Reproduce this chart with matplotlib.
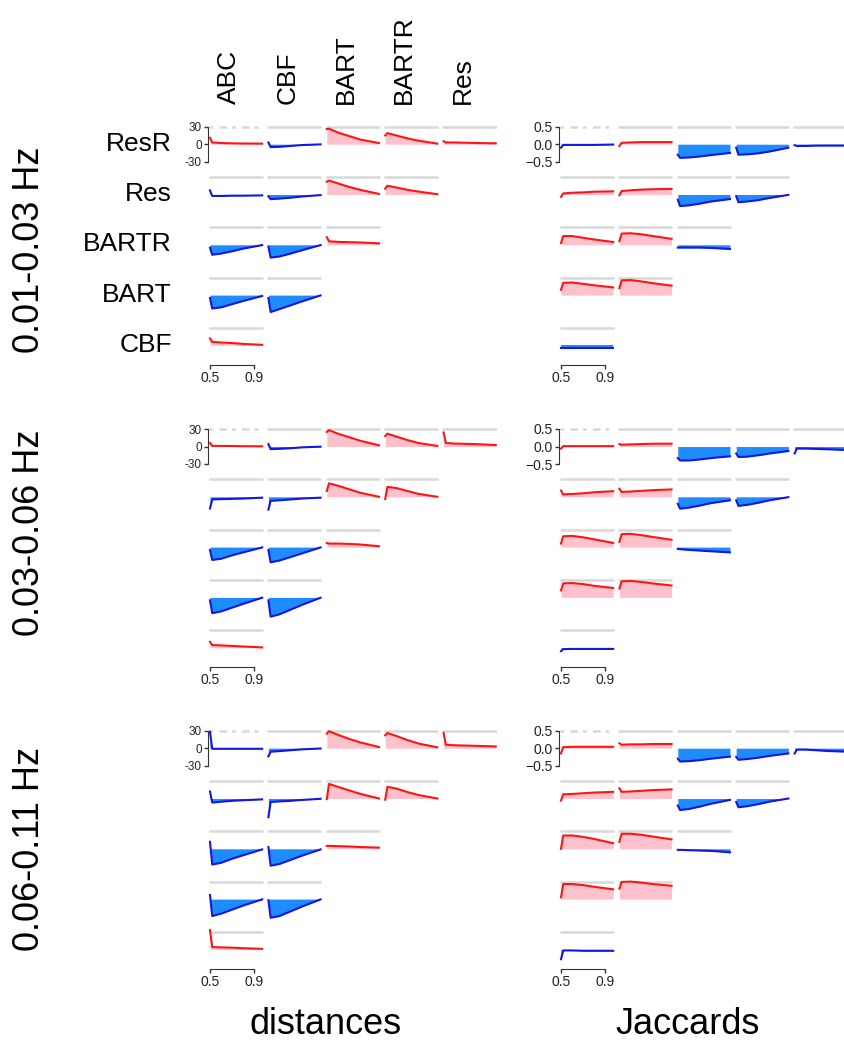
import numpy as np
import matplotlib
matplotlib.use("Agg")
import matplotlib.pyplot as plt

plt.rcParams['font.family'] = ['Liberation Sans', 'DejaVu Sans']

bands = ["0.01-0.03 Hz", "0.03-0.06 Hz", "0.06-0.11 Hz"]
metrics = ["distances", "Jaccards"]
col_names = ["ABC", "CBF", "BART", "BARTR", "Res"]
row_names = ["ResR", "Res", "BARTR", "BART", "CBF"]

# threshold values (x) at which the differences were read
thresholds = [0.50, 0.52, 0.60, 0.70, 0.80, 0.97]

# rows: ResR, Res, BARTR, BART, CBF ; columns: ABC, CBF, BART, BARTR, Res
dist_low = [
    [[11, 3, 2, 1.5, 1.2, 1], [3, -5, -4.5, -3, -1.5, -0.3], [26, 26.5, 20, 14, 8, 2],
     [15, 19, 15, 10, 6, 1], [5, 3, 3, 2.5, 2, 1.5]],
    [[7, -2.5, -2.5, -2, -2, -1.5], [-3, -8, -7, -5.5, -3.5, -1], [22, 24, 19, 13, 8, 1],
     [10, 15, 12, 8, 5, 0.5]],
    [[-5, -17, -15, -11, -6.5, -0.5], [-3, -22, -20, -15, -9.5, -0.5], [13, 6, 5, 4.5, 4, 2.5]],
    [[-5, -23, -21, -15.5, -10, -1.5], [-5, -29, -24, -17.5, -11, -0.5]],
    [[12, 6, 5, 4, 2.5, 1]],
]
dist_mid = [
    [[6, 1, 1, 0.8, 0.5, 0.3], [4, -4.5, -4, -3, -1.5, -0.3], [25, 28, 22, 16, 10, 2],
     [18, 22, 17, 11, 6, 1], [24, 6, 5, 4.5, 4, 2.5]],
    [[-20, -4.5, -4, -3.5, -3, -1.5], [-22, -7, -6, -4.5, -3, -1.5], [10, 23, 19, 13, 7, 0],
     [-4, 17, 15, 10, 5, 0]],
    [[-5, -22, -20, -14, -9, -0.5], [-5, -26, -23, -17, -11, -0.5], [7, 6, 6, 5.5, 4.5, 1.5]],
    [[-5, -27, -24, -17.5, -11, -0.5], [-5, -33, -29, -21, -13, -0.5]],
    [[10, 4.5, 4, 3, 2, 0.5]],
]
dist_high = [
    [[28, -1, -1, -1, -1, -1], [-14, -6, -5, -3.5, -2, -0.5], [25, 29, 23, 16, 10, 2],
     [22, 26, 21, 14, 8, 1.5], [26, 6, 5, 4.5, 4, 3]],
    [[12, -7, -5.5, -4, -3, -1.5], [-32, -6, -5, -4, -2.5, -0.5], [-1, 25, 20, 14, 8, 0],
     [-2, 20, 17, 11, 6, 0]],
    [[12, -27, -24, -17, -11, -1], [3, -29, -26, -19, -12, -1], [5, 5, 4.5, 4, 3, 2]],
    [[7, -29, -25, -18, -11, -0.5], [-2, -32, -29, -21, -13, -0.5]],
    [[33, 4, 3.5, 3, 2, 1]],
]
jac_low = [
    [[-0.1, -0.02, -0.02, -0.02, -0.02, -0.01], [-0.05, 0.04, 0.05, 0.06, 0.06, 0.06],
     [-0.3, -0.39, -0.38, -0.35, -0.31, -0.25], [-0.1, -0.3, -0.29, -0.26, -0.21, -0.1],
     [-0.03, -0.05, -0.05, -0.04, -0.04, -0.04]],
    [[-0.07, 0.03, 0.05, 0.06, 0.08, 0.09], [-0.02, 0.1, 0.12, 0.14, 0.15, 0.16],
     [-0.15, -0.33, -0.31, -0.26, -0.2, -0.13], [-0.05, -0.22, -0.2, -0.16, -0.1, -0.01]],
    [[0.05, 0.25, 0.25, 0.2, 0.15, 0.08], [0.1, 0.32, 0.33, 0.3, 0.25, 0.17],
     [-0.08, -0.08, -0.08, -0.08, -0.09, -0.12]],
    [[0.15, 0.35, 0.36, 0.32, 0.28, 0.22], [0.2, 0.42, 0.43, 0.39, 0.34, 0.27]],
    [[-0.06, -0.06, -0.06, -0.06, -0.06, -0.06]],
]
jac_mid = [
    [[-0.06, 0.01, 0.01, 0.01, 0.01, 0.01], [0.07, 0.05, 0.06, 0.07, 0.08, 0.08],
     [-0.33, -0.4, -0.4, -0.37, -0.33, -0.28], [-0.2, -0.3, -0.29, -0.25, -0.2, -0.13],
     [-0.2, -0.06, -0.06, -0.07, -0.08, -0.1]],
    [[0.18, 0.07, 0.08, 0.1, 0.13, 0.16], [0.23, 0.14, 0.15, 0.17, 0.19, 0.21],
     [-0.2, -0.34, -0.31, -0.25, -0.18, -0.1], [-0.1, -0.26, -0.23, -0.17, -0.1, -0.01]],
    [[0.1, 0.31, 0.32, 0.28, 0.22, 0.12], [0.15, 0.37, 0.38, 0.34, 0.29, 0.21],
     [-0.05, -0.06, -0.08, -0.1, -0.12, -0.15]],
    [[0.2, 0.4, 0.41, 0.38, 0.33, 0.27], [0.25, 0.46, 0.47, 0.44, 0.4, 0.34]],
    [[-0.1, -0.04, -0.035, -0.035, -0.035, -0.035]],
]
jac_high = [
    [[-0.15, 0.03, 0.04, 0.04, 0.04, 0.04], [0.14, 0.1, 0.11, 0.11, 0.12, 0.12],
     [-0.3, -0.38, -0.37, -0.34, -0.3, -0.24], [-0.25, -0.33, -0.31, -0.27, -0.22, -0.15],
     [-0.15, -0.04, -0.04, -0.06, -0.08, -0.1]],
    [[-0.06, 0.12, 0.13, 0.15, 0.17, 0.19], [0.29, 0.19, 0.2, 0.22, 0.24, 0.26],
     [-0.2, -0.33, -0.3, -0.23, -0.15, -0.04], [-0.1, -0.25, -0.22, -0.16, -0.09, 0.0]],
    [[0.0, 0.38, 0.38, 0.34, 0.28, 0.16], [0.2, 0.43, 0.43, 0.4, 0.35, 0.27],
     [-0.03, -0.03, -0.04, -0.05, -0.06, -0.1]],
    [[0.05, 0.43, 0.43, 0.4, 0.35, 0.28], [0.3, 0.49, 0.5, 0.47, 0.43, 0.38]],
    [[-0.28, -0.03, -0.03, -0.04, -0.04, -0.04]],
]

data = {
    "distances": [dist_low, dist_mid, dist_high],
    "Jaccards": [jac_low, jac_mid, jac_high],
}

W, H = 844, 1043
fig = plt.figure(figsize=(W / 100, H / 100), dpi=100)

RED, PINK = "#FF1414", "#FFC2CC"
BLUE, LBLUE = "#1616E0", "#1E8CFF"
GREY = "#D8D8D8"
AX = "#333333"

block_top = [126.7, 429.0, 730.7]   # pixel y of the grey reference line in first row
row_step = 50.3
col_step = 58.4
col_x0 = {"distances": 210.0, "Jaccards": 561.0}
px_per_x = 111.0
xlo, xhi = 0.48, 0.985

# (top value shown by grey line, y tick values, y tick labels, tick label size)
yinfo = {
    "distances": (30, [-30, 0, 30], ["-30", "0", "30"], 8.5),
    "Jaccards": (0.5, [-0.5, 0, 0.5], ["\u22120.5", "0.0", "0.5"], 10),
}


def add_panel(xpx, ypx_top, top):
    # xpx: pixel x of threshold 0.5, ypx_top: pixel y of the grey line (value = top)
    unit = 17.5 / top          # px per y unit
    zero = ypx_top + 17.5
    ylim = 2.4 * top
    left = xpx - (0.5 - xlo) * px_per_x
    width = (xhi - xlo) * px_per_x
    bottom = zero + ylim * unit
    height = 2 * ylim * unit
    ax = fig.add_axes([left / W, 1 - bottom / H, width / W, height / H])
    ax.set_xlim(xlo, xhi)
    ax.set_ylim(-ylim, ylim)
    ax.patch.set_visible(False)
    for s in ax.spines.values():
        s.set_visible(False)
    ax.set_xticks([])
    ax.set_yticks([])
    return ax


for b, band in enumerate(bands):
    for metric in metrics:
        top, yt, ytl, ysize = yinfo[metric]
        rows = data[metric][b]
        for r, row in enumerate(rows):
            for c, vals in enumerate(row):
                xpx = col_x0[metric] + c * col_step
                ypx = block_top[b] + r * row_step
                ax = add_panel(xpx, ypx, top)
                first = (r == 0 and c == 0)
                ax.plot([0.49, 0.978], [top, top], color=GREY, lw=1.8,
                        ls=(0, (1.5, 2.5, 3, 2)) if first else "-",
                        solid_capstyle="butt")
                pos = np.median(vals) > 0
                ax.fill_between(thresholds, 0, vals, color=PINK if pos else LBLUE, lw=0)
                ax.plot(thresholds, vals, color=RED if pos else BLUE, lw=1.5, clip_on=False)
                if first:
                    sp = ax.spines["left"]
                    sp.set_visible(True)
                    sp.set_bounds(-top, top)
                    sp.set_position(("data", 0.484))
                    sp.set_color(AX)
                    ax.set_yticks(yt)
                    ax.set_yticklabels(ytl)
                    ax.tick_params(axis="y", length=3, width=1, color=AX,
                                   labelsize=ysize, pad=1.5, labelcolor="#222222")
                if r == 4 and c == 0:
                    sp = ax.spines["bottom"]
                    sp.set_visible(True)
                    sp.set_bounds(0.5, 0.9)
                    sp.set_position(("data", -1.1 * top))
                    sp.set_color(AX)
                    ax.set_xticks([0.5, 0.9])
                    ax.set_xticklabels(["0.5", "0.9"])
                    ax.tick_params(axis="x", length=3, width=1, color=AX,
                                   labelsize=10, pad=1.5, labelcolor="#222222")


def ftext(x, y, s, **kw):
    fig.text(x / W, 1 - y / H, s, **kw)


# column and row labels
for c, name in enumerate(col_names):
    ftext(col_x0["distances"] + c * col_step + 19, 104, name, rotation=90,
          ha="center", va="bottom", fontsize=19)
for r, name in enumerate(row_names):
    ftext(172, block_top[0] + r * row_step + 17, name, ha="right", va="center", fontsize=19)

# frequency band labels
for y, band in zip([250, 533, 849], bands):
    ftext(30, y, band, rotation=90, ha="center", va="center", fontsize=26)

# metric labels
ftext(326, 1025, "distances", ha="center", va="center", fontsize=26)
ftext(688, 1025, "Jaccards", ha="center", va="center", fontsize=26)

fig.savefig("out.png", dpi=100)
